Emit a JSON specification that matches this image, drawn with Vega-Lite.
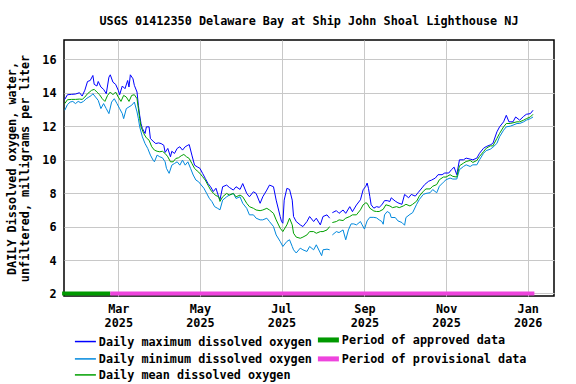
{
  "$schema": "https://vega.github.io/schema/vega-lite/v6.json",
  "width": 490,
  "height": 256,
  "autosize": "none",
  "padding": {"left": 64, "top": 40, "right": 22, "bottom": 88},
  "background": "white",
  "title": {"text": "USGS 01412350 Delaware Bay at Ship John Shoal Lighthouse NJ", "font": "DejaVu Sans Mono", "fontSize": 11.8, "fontWeight": "bold", "color": "#000", "offset": 12},
  "config": {
    "view": {"stroke": "#000", "strokeWidth": 1.5},
    "font": "DejaVu Sans Mono",
    "axis": {"domain": false, "ticks": false, "grid": true, "gridColor": "#c8c8c8", "gridWidth": 1, "labelOverlap": false, "labelFont": "DejaVu Sans Mono", "labelFontSize": 11.8, "labelFontWeight": "bold", "labelColor": "#000", "titleFont": "DejaVu Sans Mono", "titleFontSize": 11.8, "titleFontWeight": "bold", "titleColor": "#000"}
  },
  "datasets": {
    "max": [
{"t":"2025-01-20","v":13.6},{"t":"2025-01-22","v":13.88},{"t":"2025-01-25","v":13.9},{"t":"2025-01-28","v":13.92},{"t":"2025-01-31","v":14.0},{"t":"2025-02-02","v":13.8},{"t":"2025-02-04","v":14.15},{"t":"2025-02-06","v":14.67},{"t":"2025-02-08","v":14.73},{"t":"2025-02-10","v":15.03},{"t":"2025-02-11","v":14.5},{"t":"2025-02-13","v":14.4},{"t":"2025-02-14","v":14.67},{"t":"2025-02-16","v":14.34},{"t":"2025-02-18","v":14.2},{"t":"2025-02-20","v":13.94},{"t":"2025-02-22","v":14.93},{"t":"2025-02-23","v":15.07},{"t":"2025-02-25","v":14.63},{"t":"2025-02-27","v":14.5},{"t":"2025-03-01","v":14.14},{"t":"2025-03-02","v":13.88},{"t":"2025-03-04","v":14.4},{"t":"2025-03-06","v":14.24},{"t":"2025-03-08","v":14.73},{"t":"2025-03-09","v":14.34},{"t":"2025-03-10","v":15.07},{"t":"2025-03-12","v":14.83},{"t":"2025-03-13","v":14.44},{"t":"2025-03-15","v":14.04},{"t":"2025-03-16","v":13.25},{"t":"2025-03-17","v":12.65},{"t":"2025-03-18","v":12.15},{"t":"2025-03-19","v":11.86},{"t":"2025-03-21","v":11.56},{"t":"2025-03-22","v":11.96},{"t":"2025-03-24","v":11.96},{"t":"2025-03-25","v":11.26},{"t":"2025-03-27","v":11.1},{"t":"2025-03-29","v":10.96},{"t":"2025-03-31","v":11.0},{"t":"2025-04-02","v":10.96},{"t":"2025-04-04","v":10.86},{"t":"2025-04-05","v":10.43},{"t":"2025-04-07","v":10.67},{"t":"2025-04-09","v":10.17},{"t":"2025-04-10","v":10.5},{"t":"2025-04-12","v":10.37},{"t":"2025-04-14","v":10.67},{"t":"2025-04-16","v":10.77},{"t":"2025-04-18","v":10.57},{"t":"2025-04-20","v":10.77},{"t":"2025-04-22","v":10.86},{"t":"2025-04-23","v":10.9},{"t":"2025-04-25","v":10.27},{"t":"2025-04-27","v":9.67},{"t":"2025-04-29","v":9.57},{"t":"2025-05-01","v":9.48},{"t":"2025-05-03","v":9.18},{"t":"2025-05-05","v":8.88},{"t":"2025-05-07","v":8.58},{"t":"2025-05-09","v":8.38},{"t":"2025-05-11","v":8.09},{"t":"2025-05-13","v":8.29},{"t":"2025-05-15","v":7.79},{"t":"2025-05-16","v":7.6},{"t":"2025-05-18","v":8.38},{"t":"2025-05-21","v":8.48},{"t":"2025-05-23","v":8.34},{"t":"2025-05-26","v":8.18},{"t":"2025-05-28","v":8.38},{"t":"2025-05-31","v":8.22},{"t":"2025-06-02","v":8.57},{"t":"2025-06-05","v":7.98},{"t":"2025-06-07","v":7.78},{"t":"2025-06-10","v":8.08},{"t":"2025-06-12","v":7.98},{"t":"2025-06-15","v":7.39},{"t":"2025-06-17","v":7.78},{"t":"2025-06-20","v":8.18},{"t":"2025-06-22","v":8.48},{"t":"2025-06-25","v":8.38},{"t":"2025-06-27","v":7.58},{"t":"2025-06-30","v":6.6},{"t":"2025-07-01","v":6.3},{"t":"2025-07-02","v":6.2},{"t":"2025-07-03","v":7.58},{"t":"2025-07-05","v":8.28},{"t":"2025-07-07","v":8.22},{"t":"2025-07-09","v":7.58},{"t":"2025-07-10","v":6.6},{"t":"2025-07-12","v":6.3},{"t":"2025-07-15","v":6.1},{"t":"2025-07-17","v":6.0},{"t":"2025-07-20","v":6.3},{"t":"2025-07-22","v":6.6},{"t":"2025-07-25","v":6.3},{"t":"2025-07-27","v":6.5},{"t":"2025-07-30","v":6.1},{"t":"2025-08-01","v":6.6},{"t":"2025-08-04","v":6.7},{"t":"2025-08-06","v":6.5},{"t":"2025-08-07","v":null},{"t":"2025-08-08","v":6.83},{"t":"2025-08-11","v":6.95},{"t":"2025-08-13","v":6.79},{"t":"2025-08-16","v":6.99},{"t":"2025-08-18","v":6.79},{"t":"2025-08-21","v":7.19},{"t":"2025-08-23","v":6.89},{"t":"2025-08-26","v":7.29},{"t":"2025-08-29","v":7.6},{"t":"2025-08-31","v":8.2},{"t":"2025-09-02","v":8.41},{"t":"2025-09-03","v":8.6},{"t":"2025-09-04","v":8.28},{"t":"2025-09-05","v":7.8},{"t":"2025-09-06","v":7.3},{"t":"2025-09-08","v":7.1},{"t":"2025-09-10","v":7.19},{"t":"2025-09-12","v":7.15},{"t":"2025-09-14","v":7.3},{"t":"2025-09-16","v":7.55},{"t":"2025-09-18","v":7.55},{"t":"2025-09-20","v":7.5},{"t":"2025-09-21","v":7.72},{"t":"2025-09-24","v":7.52},{"t":"2025-09-26","v":7.42},{"t":"2025-09-29","v":7.33},{"t":"2025-10-01","v":7.92},{"t":"2025-10-04","v":7.72},{"t":"2025-10-06","v":7.92},{"t":"2025-10-09","v":7.82},{"t":"2025-10-11","v":8.02},{"t":"2025-10-14","v":8.31},{"t":"2025-10-16","v":8.51},{"t":"2025-10-19","v":8.71},{"t":"2025-10-21","v":8.77},{"t":"2025-10-24","v":8.9},{"t":"2025-10-26","v":9.1},{"t":"2025-10-29","v":9.1},{"t":"2025-10-31","v":9.2},{"t":"2025-11-03","v":9.2},{"t":"2025-11-05","v":9.4},{"t":"2025-11-07","v":9.55},{"t":"2025-11-09","v":9.1},{"t":"2025-11-11","v":9.99},{"t":"2025-11-14","v":9.99},{"t":"2025-11-16","v":10.09},{"t":"2025-11-19","v":10.03},{"t":"2025-11-21","v":9.99},{"t":"2025-11-24","v":10.09},{"t":"2025-11-26","v":10.38},{"t":"2025-11-29","v":10.68},{"t":"2025-12-01","v":10.78},{"t":"2025-12-04","v":10.88},{"t":"2025-12-06","v":10.97},{"t":"2025-12-09","v":11.66},{"t":"2025-12-11","v":11.96},{"t":"2025-12-14","v":12.26},{"t":"2025-12-16","v":12.65},{"t":"2025-12-18","v":12.26},{"t":"2025-12-21","v":12.26},{"t":"2025-12-23","v":12.55},{"t":"2025-12-26","v":12.36},{"t":"2025-12-29","v":12.59},{"t":"2025-12-31","v":12.71},{"t":"2026-01-03","v":12.75},{"t":"2026-01-05","v":12.95}
    ],
    "min": [
{"t":"2025-01-20","v":12.95},{"t":"2025-01-22","v":13.29},{"t":"2025-01-24","v":13.44},{"t":"2025-01-26","v":13.48},{"t":"2025-01-28","v":13.35},{"t":"2025-01-30","v":13.48},{"t":"2025-02-01","v":13.4},{"t":"2025-02-03","v":13.48},{"t":"2025-02-05","v":13.64},{"t":"2025-02-07","v":13.74},{"t":"2025-02-09","v":13.84},{"t":"2025-02-10","v":13.94},{"t":"2025-02-12","v":13.74},{"t":"2025-02-14","v":13.54},{"t":"2025-02-16","v":13.05},{"t":"2025-02-18","v":13.35},{"t":"2025-02-20","v":13.05},{"t":"2025-02-22","v":12.75},{"t":"2025-02-24","v":13.44},{"t":"2025-02-26","v":13.64},{"t":"2025-02-28","v":13.35},{"t":"2025-03-02","v":13.05},{"t":"2025-03-04","v":12.75},{"t":"2025-03-05","v":12.45},{"t":"2025-03-07","v":13.05},{"t":"2025-03-09","v":13.15},{"t":"2025-03-11","v":13.25},{"t":"2025-03-13","v":13.44},{"t":"2025-03-15","v":12.85},{"t":"2025-03-16","v":12.45},{"t":"2025-03-17","v":11.96},{"t":"2025-03-19","v":11.36},{"t":"2025-03-21","v":10.96},{"t":"2025-03-23","v":10.67},{"t":"2025-03-25","v":10.27},{"t":"2025-03-27","v":9.97},{"t":"2025-03-28","v":9.87},{"t":"2025-03-30","v":10.27},{"t":"2025-04-01","v":10.17},{"t":"2025-04-03","v":10.11},{"t":"2025-04-05","v":9.87},{"t":"2025-04-06","v":9.48},{"t":"2025-04-08","v":9.18},{"t":"2025-04-10","v":9.67},{"t":"2025-04-12","v":9.77},{"t":"2025-04-14","v":9.87},{"t":"2025-04-16","v":9.67},{"t":"2025-04-18","v":9.97},{"t":"2025-04-20","v":9.67},{"t":"2025-04-22","v":9.87},{"t":"2025-04-24","v":9.48},{"t":"2025-04-26","v":9.08},{"t":"2025-04-28","v":8.78},{"t":"2025-04-30","v":8.68},{"t":"2025-05-02","v":8.48},{"t":"2025-05-04","v":8.29},{"t":"2025-05-06","v":7.99},{"t":"2025-05-08","v":7.69},{"t":"2025-05-10","v":7.49},{"t":"2025-05-12","v":7.19},{"t":"2025-05-14","v":7.1},{"t":"2025-05-16","v":7.0},{"t":"2025-05-18","v":7.58},{"t":"2025-05-21","v":7.78},{"t":"2025-05-23","v":7.88},{"t":"2025-05-26","v":7.98},{"t":"2025-05-28","v":7.68},{"t":"2025-05-31","v":7.78},{"t":"2025-06-02","v":7.39},{"t":"2025-06-05","v":7.09},{"t":"2025-06-07","v":6.7},{"t":"2025-06-10","v":6.7},{"t":"2025-06-12","v":6.5},{"t":"2025-06-15","v":6.4},{"t":"2025-06-17","v":6.4},{"t":"2025-06-20","v":6.5},{"t":"2025-06-22","v":6.3},{"t":"2025-06-25","v":6.0},{"t":"2025-06-27","v":5.5},{"t":"2025-06-30","v":5.11},{"t":"2025-07-02","v":4.81},{"t":"2025-07-05","v":5.11},{"t":"2025-07-07","v":5.21},{"t":"2025-07-09","v":4.81},{"t":"2025-07-10","v":4.61},{"t":"2025-07-12","v":4.42},{"t":"2025-07-15","v":4.71},{"t":"2025-07-17","v":4.61},{"t":"2025-07-20","v":4.51},{"t":"2025-07-22","v":4.81},{"t":"2025-07-25","v":4.61},{"t":"2025-07-27","v":4.91},{"t":"2025-07-30","v":4.42},{"t":"2025-07-31","v":4.26},{"t":"2025-08-01","v":4.61},{"t":"2025-08-04","v":4.65},{"t":"2025-08-06","v":4.61},{"t":"2025-08-07","v":null},{"t":"2025-08-08","v":5.5},{"t":"2025-08-11","v":5.7},{"t":"2025-08-13","v":5.64},{"t":"2025-08-16","v":5.8},{"t":"2025-08-18","v":5.21},{"t":"2025-08-20","v":5.8},{"t":"2025-08-22","v":6.16},{"t":"2025-08-24","v":6.16},{"t":"2025-08-26","v":6.1},{"t":"2025-08-29","v":6.3},{"t":"2025-08-30","v":6.14},{"t":"2025-09-01","v":5.85},{"t":"2025-09-02","v":6.1},{"t":"2025-09-03","v":6.34},{"t":"2025-09-05","v":6.55},{"t":"2025-09-08","v":6.55},{"t":"2025-09-10","v":6.52},{"t":"2025-09-12","v":6.4},{"t":"2025-09-14","v":6.3},{"t":"2025-09-15","v":6.14},{"t":"2025-09-16","v":6.7},{"t":"2025-09-18","v":6.9},{"t":"2025-09-20","v":6.8},{"t":"2025-09-21","v":6.54},{"t":"2025-09-24","v":6.54},{"t":"2025-09-26","v":6.34},{"t":"2025-09-29","v":6.24},{"t":"2025-10-01","v":6.08},{"t":"2025-10-02","v":6.54},{"t":"2025-10-05","v":6.73},{"t":"2025-10-07","v":6.83},{"t":"2025-10-10","v":7.33},{"t":"2025-10-12","v":7.62},{"t":"2025-10-15","v":7.92},{"t":"2025-10-17","v":7.98},{"t":"2025-10-20","v":8.02},{"t":"2025-10-22","v":8.21},{"t":"2025-10-25","v":8.02},{"t":"2025-10-27","v":8.41},{"t":"2025-10-30","v":8.65},{"t":"2025-11-01","v":8.8},{"t":"2025-11-04","v":8.9},{"t":"2025-11-06","v":8.84},{"t":"2025-11-09","v":8.84},{"t":"2025-11-11","v":9.4},{"t":"2025-11-14","v":9.59},{"t":"2025-11-16","v":9.69},{"t":"2025-11-19","v":9.59},{"t":"2025-11-21","v":9.69},{"t":"2025-11-24","v":9.69},{"t":"2025-11-26","v":9.99},{"t":"2025-11-29","v":10.38},{"t":"2025-12-01","v":10.54},{"t":"2025-12-04","v":10.62},{"t":"2025-12-06","v":10.74},{"t":"2025-12-09","v":10.97},{"t":"2025-12-11","v":11.37},{"t":"2025-12-14","v":11.76},{"t":"2025-12-16","v":11.96},{"t":"2025-12-19","v":12.0},{"t":"2025-12-21","v":12.06},{"t":"2025-12-24","v":12.16},{"t":"2025-12-26","v":12.16},{"t":"2025-12-29","v":12.26},{"t":"2025-12-31","v":12.36},{"t":"2026-01-03","v":12.45},{"t":"2026-01-05","v":12.55}
    ],
    "mean": [
{"t":"2025-01-20","v":13.35},{"t":"2025-01-22","v":13.58},{"t":"2025-01-25","v":13.6},{"t":"2025-01-28","v":13.6},{"t":"2025-01-31","v":13.62},{"t":"2025-02-02","v":13.6},{"t":"2025-02-04","v":13.74},{"t":"2025-02-06","v":13.94},{"t":"2025-02-09","v":14.14},{"t":"2025-02-11","v":14.2},{"t":"2025-02-13","v":14.04},{"t":"2025-02-15","v":13.88},{"t":"2025-02-17","v":13.64},{"t":"2025-02-19","v":13.48},{"t":"2025-02-21","v":13.84},{"t":"2025-02-23","v":14.04},{"t":"2025-02-25","v":13.88},{"t":"2025-02-27","v":14.04},{"t":"2025-03-01","v":13.74},{"t":"2025-03-03","v":13.48},{"t":"2025-03-05","v":13.84},{"t":"2025-03-07","v":13.74},{"t":"2025-03-09","v":13.48},{"t":"2025-03-11","v":13.84},{"t":"2025-03-13","v":13.88},{"t":"2025-03-15","v":13.64},{"t":"2025-03-16","v":13.05},{"t":"2025-03-17","v":12.45},{"t":"2025-03-18","v":11.96},{"t":"2025-03-20","v":11.56},{"t":"2025-03-22","v":11.3},{"t":"2025-03-24","v":11.16},{"t":"2025-03-26","v":10.77},{"t":"2025-03-28","v":10.57},{"t":"2025-03-30","v":10.5},{"t":"2025-04-01","v":10.47},{"t":"2025-04-03","v":10.5},{"t":"2025-04-05","v":10.37},{"t":"2025-04-07","v":10.17},{"t":"2025-04-09","v":9.87},{"t":"2025-04-11","v":9.87},{"t":"2025-04-13","v":10.07},{"t":"2025-04-15","v":10.11},{"t":"2025-04-17","v":10.23},{"t":"2025-04-19","v":10.31},{"t":"2025-04-21","v":10.17},{"t":"2025-04-23","v":10.07},{"t":"2025-04-25","v":9.77},{"t":"2025-04-27","v":9.48},{"t":"2025-04-29","v":9.32},{"t":"2025-05-01","v":9.18},{"t":"2025-05-03","v":8.98},{"t":"2025-05-05","v":8.78},{"t":"2025-05-07","v":8.48},{"t":"2025-05-09","v":8.19},{"t":"2025-05-11","v":7.99},{"t":"2025-05-13","v":7.85},{"t":"2025-05-15","v":7.79},{"t":"2025-05-16","v":7.5},{"t":"2025-05-18","v":7.78},{"t":"2025-05-21","v":7.98},{"t":"2025-05-23","v":7.88},{"t":"2025-05-26","v":7.98},{"t":"2025-05-28","v":7.78},{"t":"2025-05-31","v":7.88},{"t":"2025-06-02","v":7.78},{"t":"2025-06-05","v":7.39},{"t":"2025-06-07","v":7.19},{"t":"2025-06-10","v":7.09},{"t":"2025-06-12","v":6.99},{"t":"2025-06-15","v":6.95},{"t":"2025-06-17","v":6.99},{"t":"2025-06-20","v":7.09},{"t":"2025-06-22","v":6.99},{"t":"2025-06-25","v":6.79},{"t":"2025-06-27","v":6.4},{"t":"2025-06-30","v":5.9},{"t":"2025-07-02","v":5.7},{"t":"2025-07-05","v":6.1},{"t":"2025-07-07","v":6.5},{"t":"2025-07-09","v":6.1},{"t":"2025-07-10","v":5.6},{"t":"2025-07-12","v":5.37},{"t":"2025-07-15","v":5.3},{"t":"2025-07-17","v":5.37},{"t":"2025-07-20","v":5.5},{"t":"2025-07-22","v":5.7},{"t":"2025-07-25","v":5.7},{"t":"2025-07-27","v":5.6},{"t":"2025-07-30","v":5.7},{"t":"2025-08-01","v":5.7},{"t":"2025-08-04","v":5.8},{"t":"2025-08-06","v":6.0},{"t":"2025-08-07","v":null},{"t":"2025-08-08","v":6.24},{"t":"2025-08-11","v":6.3},{"t":"2025-08-13","v":6.4},{"t":"2025-08-16","v":6.36},{"t":"2025-08-18","v":6.5},{"t":"2025-08-21","v":6.6},{"t":"2025-08-23","v":6.7},{"t":"2025-08-26","v":6.7},{"t":"2025-08-29","v":7.0},{"t":"2025-08-31","v":7.3},{"t":"2025-09-02","v":7.42},{"t":"2025-09-03","v":7.39},{"t":"2025-09-05","v":7.1},{"t":"2025-09-08","v":6.93},{"t":"2025-09-10","v":6.9},{"t":"2025-09-12","v":6.9},{"t":"2025-09-15","v":7.03},{"t":"2025-09-17","v":7.3},{"t":"2025-09-20","v":7.23},{"t":"2025-09-22","v":7.13},{"t":"2025-09-25","v":7.19},{"t":"2025-09-27","v":7.13},{"t":"2025-09-30","v":7.23},{"t":"2025-10-02","v":7.33},{"t":"2025-10-05","v":7.23},{"t":"2025-10-07","v":7.33},{"t":"2025-10-10","v":7.52},{"t":"2025-10-12","v":7.82},{"t":"2025-10-15","v":8.11},{"t":"2025-10-17","v":8.25},{"t":"2025-10-20","v":8.25},{"t":"2025-10-22","v":8.41},{"t":"2025-10-25","v":8.51},{"t":"2025-10-27","v":8.8},{"t":"2025-10-30","v":8.96},{"t":"2025-11-01","v":8.96},{"t":"2025-11-04","v":9.1},{"t":"2025-11-06","v":9.0},{"t":"2025-11-09","v":8.96},{"t":"2025-11-11","v":9.63},{"t":"2025-11-14","v":9.79},{"t":"2025-11-16","v":9.89},{"t":"2025-11-19","v":9.95},{"t":"2025-11-21","v":9.83},{"t":"2025-11-24","v":9.95},{"t":"2025-11-26","v":10.19},{"t":"2025-11-29","v":10.48},{"t":"2025-12-01","v":10.68},{"t":"2025-12-04","v":10.82},{"t":"2025-12-06","v":10.82},{"t":"2025-12-09","v":11.27},{"t":"2025-12-11","v":11.57},{"t":"2025-12-14","v":11.96},{"t":"2025-12-16","v":12.16},{"t":"2025-12-19","v":12.16},{"t":"2025-12-21","v":12.2},{"t":"2025-12-24","v":12.26},{"t":"2025-12-26","v":12.26},{"t":"2025-12-29","v":12.36},{"t":"2025-12-31","v":12.45},{"t":"2026-01-03","v":12.55},{"t":"2026-01-05","v":12.71}
    ],
    "periods": [
      {"p": "Period of approved data", "a": "2025-01-18", "b": "2025-02-23"},
      {"p": "Period of provisional data", "a": "2025-02-23", "b": "2026-01-06"}
    ]
  },
  "layer": [
    {
      "data": {"name": "periods"},
      "mark": {"type": "rule", "strokeWidth": 4, "strokeCap": "butt"},
      "encoding": {
        "x": {"field": "a", "type": "temporal",
          "scale": {"type": "utc", "domain": [{"year": 2025, "month": 1, "date": 19, "hours": 10, "utc": true}, {"year": 2026, "month": 1, "date": 20, "hours": 16, "utc": true}]},
          "axis": {"title": null, "tickCount": 20, "values": [{"year": 2025, "month": 3, "date": 1, "utc": true}, {"year": 2025, "month": 5, "date": 1, "utc": true}, {"year": 2025, "month": 7, "date": 1, "utc": true}, {"year": 2025, "month": 9, "date": 1, "utc": true}, {"year": 2025, "month": 11, "date": 1, "utc": true}, {"year": 2026, "month": 1, "date": 1, "utc": true}],
            "labelExpr": "[utcFormat(datum.value, '%b'), utcFormat(datum.value, '%Y')]", "labelLineHeight": 14, "labelPadding": 7, "labelBaseline": "top", "labelOverlap": false}},
        "x2": {"field": "b"},
        "y": {"datum": 2, "type": "quantitative",
          "scale": {"domain": [1.85, 17.15], "nice": false, "zero": false},
          "axis": {"values": [2, 4, 6, 8, 10, 12, 14, 16], "tickCount": 20, "labelOverlap": false, "title": ["DAILY Dissolved oxygen, water,", "unfiltered, milligrams per liter"], "titleLineHeight": 13, "titlePadding": 11, "labelPadding": 8}},
        "color": {"field": "p", "type": "nominal",
          "scale": {"domain": ["Daily maximum dissolved oxygen", "Period of approved data", "Daily minimum dissolved oxygen", "Period of provisional data", "Daily mean dissolved oxygen"], "range": ["#0000ff", "#009900", "#0088dd", "#ee44dd", "#00a000"]},
          "legend": {"orient": "none", "legendX": 15.5, "legendY": 294, "columns": 2, "direction": "horizontal", "title": null, "padding": 0, "symbolType": "M-1.5,0L1.5,0", "symbolSize": 196, "symbolStrokeWidth": 1.5, "labelFont": "DejaVu Sans Mono", "labelFontSize": 11.8, "labelFontWeight": "bold", "labelColor": "#000", "labelLimit": 0, "labelOffset": 7.5, "columnPadding": -5, "rowPadding": -2,
            "encode": {"symbols": {"update": {"strokeWidth": {"signal": "test(/Period/, datum.value) ? 5 : 1.5"}, "fill": {"value": "transparent"}}}}}}
      }
    },
    {
      "data": {"name": "max"},
      "mark": {"type": "line", "strokeWidth": 1, "invalid": "break-paths-filter-domains"},
      "encoding": {"x": {"field": "t", "type": "temporal"}, "y": {"field": "v", "type": "quantitative"}, "color": {"datum": "Daily maximum dissolved oxygen", "type": "nominal"}}
    },
    {
      "data": {"name": "min"},
      "mark": {"type": "line", "strokeWidth": 1, "invalid": "break-paths-filter-domains"},
      "encoding": {"x": {"field": "t", "type": "temporal"}, "y": {"field": "v", "type": "quantitative"}, "color": {"datum": "Daily minimum dissolved oxygen", "type": "nominal"}}
    },
    {
      "data": {"name": "mean"},
      "mark": {"type": "line", "strokeWidth": 1, "invalid": "break-paths-filter-domains"},
      "encoding": {"x": {"field": "t", "type": "temporal"}, "y": {"field": "v", "type": "quantitative"}, "color": {"datum": "Daily mean dissolved oxygen", "type": "nominal"}}
    }
  ]
}
